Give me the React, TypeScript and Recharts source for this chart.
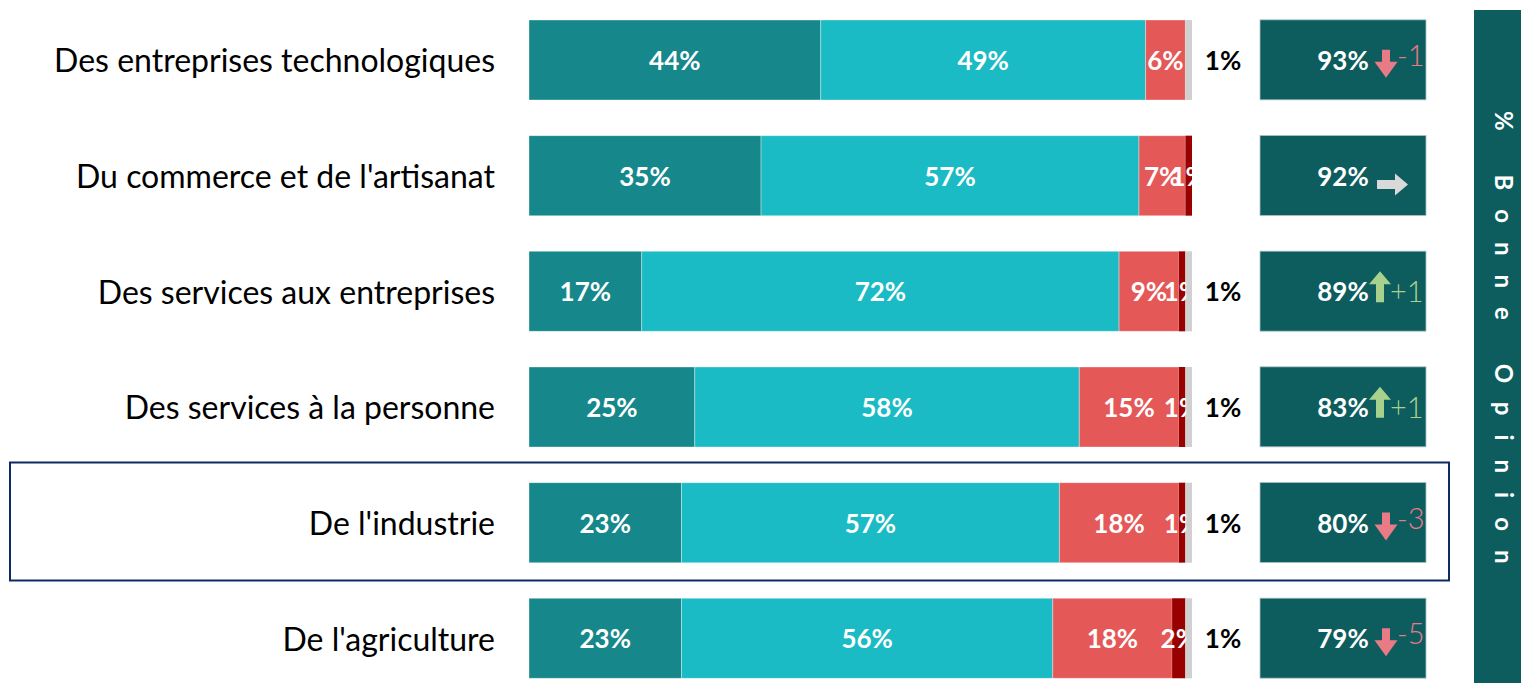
import React from 'react';
import { Bar, BarChart, LabelList, XAxis, YAxis } from 'recharts';

const categories = [
  'Des entreprises technologiques',
  "Du commerce et de l'artisanat",
  'Des services aux entreprises',
  'Des services à la personne',
  "De l'industrie",
  "De l'agriculture",
];
const tresBonne = [44, 35, 17, 25, 23, 23];
const plutotBonne = [49, 57, 72, 58, 57, 56];
const plutotMauvaise = [6, 7, 9, 15, 18, 18];
const tresMauvaise = [0, 1, 1, 1, 1, 2];
const nsp = [1, 0, 1, 1, 1, 1];
const bonneOpinion = [93, 92, 89, 83, 80, 79];
const evolution = [-1, 0, 1, 1, -3, -5];
const highlighted = "De l'industrie";

const rows = categories.map((name, i) => ({
  name,
  tb: tresBonne[i],
  ab: plutotBonne[i],
  mv: plutotMauvaise[i],
  tm: tresMauvaise[i],
  nsp: nsp[i],
}));

const FONT = 'Lato, "Open Sans", sans-serif';
const BAR = 80;

interface LabelProps {
  x?: number;
  y?: number;
  width?: number;
  height?: number;
  value?: number;
  index?: number;
}

function InsideLabel({ x = 0, y = 0, width = 0, height = 0, value }: LabelProps) {
  if (!value) return null;
  return (
    <text x={x + width / 2} y={y + height / 2} textAnchor="middle" dominantBaseline="central"
      fill="#fff" fontFamily={FONT} fontWeight={700} fontSize={26}>
      {value}%
    </text>
  );
}

// le libellé "très mauvaise" déborde et est coupé au bout de la barre
function ClippedLabel({ x = 0, y = 0, width = 0, height = 0, value, index = 0 }: LabelProps) {
  if (!value) return null;
  const id = `tm-clip-${index}`;
  return (
    <g>
      <defs>
        <clipPath id={id}>
          <rect x={x - 80} y={y} width={80 + width + 1} height={height} />
        </clipPath>
      </defs>
      <text x={x + width / 2} y={y + height / 2} textAnchor="middle" dominantBaseline="central"
        fill="#fff" fontFamily={FONT} fontWeight={700} fontSize={26} clipPath={`url(#${id})`}>
        {value}%
      </text>
    </g>
  );
}

function OutsideLabel({ x = 0, y = 0, width = 0, height = 0, value }: LabelProps) {
  if (!value) return null;
  return (
    <text x={x + width + 31} y={y + height / 2} textAnchor="middle" dominantBaseline="central"
      fill="#000" fontFamily={FONT} fontWeight={700} fontSize={26}>
      {value}%
    </text>
  );
}

interface TickProps {
  y?: number;
  index?: number;
  payload?: { value?: string; index?: number };
}

function Trend({ cy, delta }: { cy: number; delta: number }) {
  if (delta === 0) {
    const y0 = cy + 9;
    return (
      <path
        d={`M1377 ${y0 - 4.5} L1395 ${y0 - 4.5} L1395 ${y0 - 11} L1408 ${y0} L1395 ${y0 + 11} L1395 ${y0 + 4.5} L1377 ${y0 + 4.5} Z`}
        fill="#D9D9D9"
      />
    );
  }
  if (delta > 0) {
    const ax = 1380;
    return (
      <g>
        <path
          d={`M${ax - 4} ${cy + 11} L${ax - 4} ${cy - 7} L${ax - 11} ${cy - 7} L${ax} ${cy - 20} L${ax + 11} ${cy - 7} L${ax + 4} ${cy - 7} L${ax + 4} ${cy + 11} Z`}
          fill="#A9D18E"
        />
        <text x={1390} y={cy + 11} fill="#A9D18E" fontFamily={FONT} fontWeight={300} fontSize={29}>
          +{delta}
        </text>
      </g>
    );
  }
  const cx = 1386;
  return (
    <g>
      <path
        d={`M${cx - 4} ${cy - 10} L${cx - 4} ${cy + 2} L${cx - 11.5} ${cy + 2} L${cx} ${cy + 18} L${cx + 11.5} ${cy + 2} L${cx + 4} ${cy + 2} L${cx + 4} ${cy - 10} Z`}
        fill="#E97B86"
      />
      <text x={1397} y={cy + 6} fill="#E97B86" fontFamily={FONT} fontWeight={300} fontSize={29}>
        {delta}
      </text>
    </g>
  );
}

function CategoryTick({ y = 0, index, payload }: TickProps) {
  const name = String(payload?.value ?? '');
  const i = categories.indexOf(name) >= 0
    ? categories.indexOf(name)
    : (typeof index === 'number' ? index : payload?.index ?? 0);
  return (
    <g>
      {name === highlighted ? (
        <rect x={10} y={y - 60} width={1439} height={118} fill="none" stroke="#0E2A63" strokeWidth={2} />
      ) : null}
      <text x={495} y={y} textAnchor="end" dominantBaseline="central" fill="#000"
        fontFamily={FONT} fontSize={32}>
        {name}
      </text>
      <rect x={1260} y={y - BAR / 2} width={166} height={BAR} fill="#0D5C5E" stroke="#A9C4C5" strokeWidth={0.8} />
      <text x={1343} y={y} textAnchor="middle" dominantBaseline="central" fill="#fff"
        fontFamily={FONT} fontWeight={700} fontSize={26}>
        {bonneOpinion[i]}%
      </text>
      <Trend cy={y} delta={evolution[i]} />
    </g>
  );
}

export default function App() {
  return (
    <div style={{ position: 'absolute', left: 0, top: 0, width: 1521, height: 683, overflow: 'hidden', background: '#fff' }}>
      <BarChart
        width={1521}
        height={696}
        data={rows}
        layout="vertical"
        barSize={BAR}
        margin={{ top: 2, right: 329, bottom: 0, left: 0 }}
      >
        <XAxis type="number" domain={[0, 100]} hide />
        <YAxis
          type="category"
          dataKey="name"
          width={529}
          axisLine={false}
          tickLine={false}
          interval={0}
          tick={<CategoryTick />}
        />
        <Bar dataKey="tb" stackId="s" fill="#16878A" stroke="#ffffff" strokeOpacity={0.35} isAnimationActive={false}>
          <LabelList dataKey="tb" content={<InsideLabel />} />
        </Bar>
        <Bar dataKey="ab" stackId="s" fill="#1ABBC4" stroke="#ffffff" strokeOpacity={0.35} isAnimationActive={false}>
          <LabelList dataKey="ab" content={<InsideLabel />} />
        </Bar>
        <Bar dataKey="mv" stackId="s" fill="#E55858" stroke="#ffffff" strokeOpacity={0.35} isAnimationActive={false}>
          <LabelList dataKey="mv" content={<InsideLabel />} />
        </Bar>
        <Bar dataKey="tm" stackId="s" fill="#990000" isAnimationActive={false}>
          <LabelList dataKey="tm" content={<ClippedLabel />} />
        </Bar>
        <Bar dataKey="nsp" stackId="s" fill="#D0D0D0" isAnimationActive={false}>
          <LabelList dataKey="nsp" content={<OutsideLabel />} />
        </Bar>
      </BarChart>
      <div
        style={{
          position: 'absolute',
          left: 1474,
          top: 10,
          width: 47,
          height: 673,
          background: '#0D5C5E',
          display: 'flex',
          alignItems: 'center',
          justifyContent: 'center',
          paddingLeft: 14,
          boxSizing: 'border-box',
        }}
      >
        <span
          style={{
            writingMode: 'vertical-rl',
            color: '#fff',
            fontFamily: FONT,
            fontWeight: 700,
            fontSize: 24,
            letterSpacing: 19,
            whiteSpace: 'nowrap',
          }}
        >
          % Bonne Opinion
        </span>
      </div>
    </div>
  );
}
